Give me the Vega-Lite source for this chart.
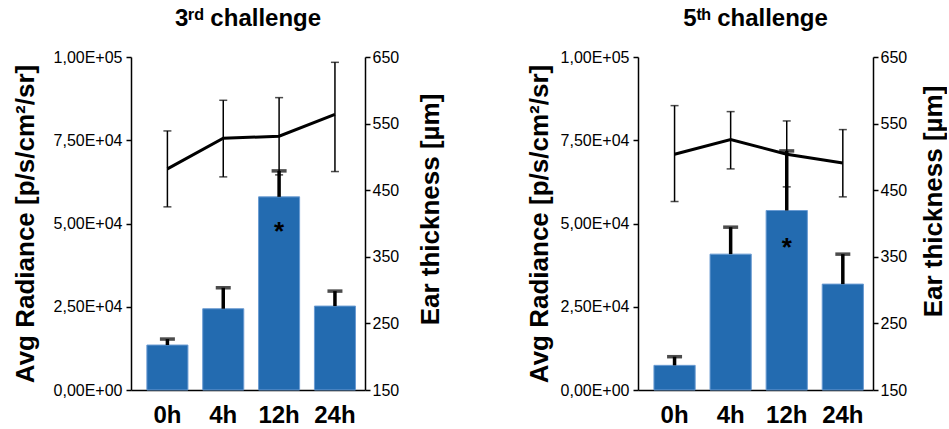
{
  "$schema": "https://vega.github.io/schema/vega-lite/v6.json",
  "padding": {"left": 12, "top": 7, "right": 0, "bottom": 0},
  "background": "white",
  "datasets": {
    "c3": [
      {"time": "0h", "rad": 13500, "radHi": 15300, "ear": 482, "earLo": 425, "earHi": 539, "sig": "", "sigY": null},
      {"time": "4h", "rad": 24400, "radHi": 30700, "ear": 528, "earLo": 470, "earHi": 585, "sig": "", "sigY": null},
      {"time": "12h", "rad": 58000, "radHi": 65800, "ear": 531, "earLo": 473, "earHi": 589, "sig": "*", "sigY": 45000},
      {"time": "24h", "rad": 25200, "radHi": 29700, "ear": 564, "earLo": 478, "earHi": 642, "sig": "", "sigY": null}
    ],
    "c5": [
      {"time": "0h", "rad": 7400, "radHi": 10000, "ear": 504, "earLo": 433, "earHi": 577, "sig": "", "sigY": null},
      {"time": "4h", "rad": 40800, "radHi": 48900, "ear": 526, "earLo": 482, "earHi": 568, "sig": "", "sigY": null},
      {"time": "12h", "rad": 53900, "radHi": 71800, "ear": 504, "earLo": 455, "earHi": 554, "sig": "*", "sigY": 40200},
      {"time": "24h", "rad": 31800, "radHi": 40800, "ear": 491, "earLo": 440, "earHi": 541, "sig": "", "sigY": null}
    ]
  },
  "spacing": 82,
  "hconcat": [
    {
      "title": {"text": "3ʳᵈ challenge"},
      "width": 234,
      "height": 333,
      "data": {"name": "c3"},
      "encoding": {
        "x": {"field": "time", "type": "ordinal", "sort": ["0h", "4h", "12h", "24h"],
          "scale": {"paddingInner": 0.265, "paddingOuter": 0.2275, "align": 0.625},
          "axis": {"title": null, "ticks": false, "labelAngle": 0, "labelFontSize": 24, "labelFontWeight": "bold", "labelPadding": 13}}
      },
      "layer": [
        {"layer": [
          {"mark": {"type": "bar", "color": "#236bb0", "stroke": "#6a9bd2", "strokeWidth": 1},
           "encoding": {"y": {"field": "rad", "type": "quantitative", "scale": {"domain": [0, 100000], "nice": false},
             "axis": {"title": "Avg Radiance [p/s/cm²/sr]", "values": [0, 25000, 50000, 75000, 100000], "labelPadding": 4, "titlePadding": 15,
               "labelExpr": "datum.value == 0 ? '0,00E+00' : datum.value == 25000 ? '2,50E+04' : datum.value == 50000 ? '5,00E+04' : datum.value == 75000 ? '7,50E+04' : '1,00E+05'"}}}},
          {"mark": {"type": "rule", "color": "black", "strokeWidth": 3.5},
           "encoding": {"y": {"field": "rad", "type": "quantitative"}, "y2": {"field": "radHi"}}},
          {"mark": {"type": "tick", "color": "black", "thickness": 3.5, "size": 15},
           "encoding": {"y": {"field": "radHi", "type": "quantitative"}}},
          {"transform": [{"filter": "datum.sig != ''"}],
           "mark": {"type": "text", "color": "black", "fontSize": 26, "fontWeight": "bold", "baseline": "alphabetic"},
           "encoding": {"y": {"field": "sigY", "type": "quantitative"}, "text": {"field": "sig"}}}
        ]},
        {"layer": [
          {"mark": {"type": "line", "color": "black", "strokeWidth": 3},
           "encoding": {"y": {"field": "ear", "type": "quantitative", "scale": {"domain": [150, 650], "nice": false},
             "axis": {"orient": "right", "title": "Ear thickness [µm]", "values": [150, 250, 350, 450, 550, 650], "labelPadding": 2, "titlePadding": 19, "titleAngle": 270, "titleBaseline": "top", "titleY": 152}}}},
          {"mark": {"type": "rule", "color": "black", "strokeWidth": 1.5},
           "encoding": {"y": {"field": "earLo", "type": "quantitative"}, "y2": {"field": "earHi"}}},
          {"mark": {"type": "tick", "color": "black", "thickness": 1.5, "size": 8},
           "encoding": {"y": {"field": "earLo", "type": "quantitative"}}},
          {"mark": {"type": "tick", "color": "black", "thickness": 1.5, "size": 8},
           "encoding": {"y": {"field": "earHi", "type": "quantitative"}}}
        ]}
      ],
      "resolve": {"scale": {"y": "independent"}}
    },
    {
      "title": {"text": "5ᵗʰ challenge"},
      "width": 235,
      "height": 333,
      "data": {"name": "c5"},
      "encoding": {
        "x": {"field": "time", "type": "ordinal", "sort": ["0h", "4h", "12h", "24h"],
          "scale": {"paddingInner": 0.265, "paddingOuter": 0.2275, "align": 0.625},
          "axis": {"title": null, "ticks": false, "labelAngle": 0, "labelFontSize": 24, "labelFontWeight": "bold", "labelPadding": 13}}
      },
      "layer": [
        {"layer": [
          {"mark": {"type": "bar", "color": "#236bb0", "stroke": "#6a9bd2", "strokeWidth": 1},
           "encoding": {"y": {"field": "rad", "type": "quantitative", "scale": {"domain": [0, 100000], "nice": false},
             "axis": {"title": "Avg Radiance [p/s/cm²/sr]", "values": [0, 25000, 50000, 75000, 100000], "labelPadding": 4, "titlePadding": 8,
               "labelExpr": "datum.value == 0 ? '0,00E+00' : datum.value == 25000 ? '2,50E+04' : datum.value == 50000 ? '5,00E+04' : datum.value == 75000 ? '7,50E+04' : '1,00E+05'"}}}},
          {"mark": {"type": "rule", "color": "black", "strokeWidth": 3.5},
           "encoding": {"y": {"field": "rad", "type": "quantitative"}, "y2": {"field": "radHi"}}},
          {"mark": {"type": "tick", "color": "black", "thickness": 3.5, "size": 15},
           "encoding": {"y": {"field": "radHi", "type": "quantitative"}}},
          {"transform": [{"filter": "datum.sig != ''"}],
           "mark": {"type": "text", "color": "black", "fontSize": 26, "fontWeight": "bold", "baseline": "alphabetic"},
           "encoding": {"y": {"field": "sigY", "type": "quantitative"}, "text": {"field": "sig"}}}
        ]},
        {"layer": [
          {"mark": {"type": "line", "color": "black", "strokeWidth": 3},
           "encoding": {"y": {"field": "ear", "type": "quantitative", "scale": {"domain": [150, 650], "nice": false},
             "axis": {"orient": "right", "title": "Ear thickness [µm]", "values": [150, 250, 350, 450, 550, 650], "labelPadding": 2, "titlePadding": 14, "titleAngle": 270, "titleBaseline": "top", "titleY": 144}}}},
          {"mark": {"type": "rule", "color": "black", "strokeWidth": 1.5},
           "encoding": {"y": {"field": "earLo", "type": "quantitative"}, "y2": {"field": "earHi"}}},
          {"mark": {"type": "tick", "color": "black", "thickness": 1.5, "size": 8},
           "encoding": {"y": {"field": "earLo", "type": "quantitative"}}},
          {"mark": {"type": "tick", "color": "black", "thickness": 1.5, "size": 8},
           "encoding": {"y": {"field": "earHi", "type": "quantitative"}}}
        ]}
      ],
      "resolve": {"scale": {"y": "independent"}}
    }
  ],
  "config": {
    "font": "Liberation Sans",
    "view": {"stroke": null},
    "axis": {"domainColor": "black", "domainWidth": 1.5, "tickColor": "black", "tickWidth": 1.5, "tickSize": 5,
      "labelColor": "black", "labelFont": "Liberation Sans", "labelFontSize": 16,
      "titleColor": "black", "titleFont": "Liberation Sans", "titleFontSize": 26, "titleFontWeight": "bold", "grid": false},
    "title": {"font": "Liberation Sans", "fontSize": 24, "fontWeight": "bold", "color": "black", "offset": 18, "anchor": "middle"}
  }
}
